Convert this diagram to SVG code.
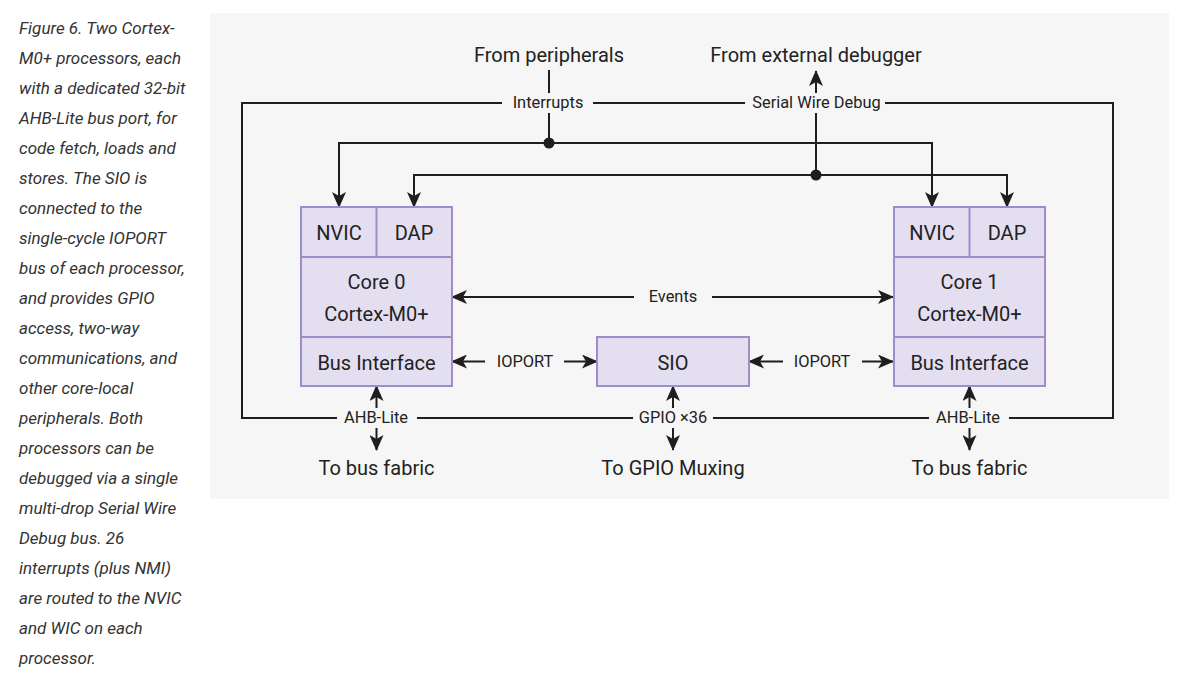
<svg xmlns="http://www.w3.org/2000/svg" width="1183" height="673" viewBox="0 0 1183 673">
<defs>
<style>
.cap{font-family:Roboto,"Liberation Sans",sans-serif;font-style:italic;font-size:17px;fill:#333}
.big{font-family:Roboto,"Liberation Sans",sans-serif;font-size:20px;fill:#222;text-anchor:middle}
.lbl{font-family:Roboto,"Liberation Sans",sans-serif;font-size:16.4px;fill:#222;text-anchor:middle}
.box{fill:#e4def1;stroke:#a08cc8;stroke-width:2}
.ln{fill:none;stroke:#1e1e1e;stroke-width:2}
.gap{fill:#f6f6f6}
</style>
<marker id="ah" viewBox="0 0 16 14" markerWidth="16" markerHeight="14" refX="15" refY="7" orient="auto-start-reverse" markerUnits="userSpaceOnUse">
<path d="M0,0 L16,7 L0,14 L4,7 Z" fill="#1e1e1e"/>
</marker>
</defs>
<g id="caption">
<text class="cap" x="19" y="34">Figure 6. Two Cortex-</text>
<text class="cap" x="19" y="64">M0+ processors, each</text>
<text class="cap" x="19" y="94">with a dedicated 32-bit</text>
<text class="cap" x="19" y="124">AHB-Lite bus port, for</text>
<text class="cap" x="19" y="154">code fetch, loads and</text>
<text class="cap" x="19" y="184">stores. The SIO is</text>
<text class="cap" x="19" y="214">connected to the</text>
<text class="cap" x="19" y="244">single-cycle IOPORT</text>
<text class="cap" x="19" y="274">bus of each processor,</text>
<text class="cap" x="19" y="304">and provides GPIO</text>
<text class="cap" x="19" y="334">access, two-way</text>
<text class="cap" x="19" y="364">communications, and</text>
<text class="cap" x="19" y="394">other core-local</text>
<text class="cap" x="19" y="424">peripherals. Both</text>
<text class="cap" x="19" y="454">processors can be</text>
<text class="cap" x="19" y="484">debugged via a single</text>
<text class="cap" x="19" y="514">multi-drop Serial Wire</text>
<text class="cap" x="19" y="544">Debug bus. 26</text>
<text class="cap" x="19" y="574">interrupts (plus NMI)</text>
<text class="cap" x="19" y="604">are routed to the NVIC</text>
<text class="cap" x="19" y="634">and WIC on each</text>
<text class="cap" x="19" y="664">processor.</text>
</g>
<rect x="210" y="13" width="959" height="486" fill="#f6f6f6"/>
<g id="connectors">
<rect class="ln" x="242" y="103" width="871" height="315"/>
<path class="ln" d="M549,70 V143"/>
<path class="ln" d="M339,207 V143 H932 V207" marker-start="url(#ah)" marker-end="url(#ah)"/>
<circle cx="549" cy="143" r="5.5" fill="#1e1e1e"/>
<path class="ln" d="M414,207 V175 H1007 V207" marker-start="url(#ah)" marker-end="url(#ah)"/>
<circle cx="816" cy="175" r="5.5" fill="#1e1e1e"/>
<path class="ln" d="M816,175 V71" marker-end="url(#ah)"/>
<path class="ln" d="M452,297 H893" marker-start="url(#ah)" marker-end="url(#ah)"/>
<path class="ln" d="M452,361.5 H597" marker-start="url(#ah)" marker-end="url(#ah)"/>
<path class="ln" d="M749,361.5 H893" marker-start="url(#ah)" marker-end="url(#ah)"/>
<path class="ln" d="M376.5,386 V450" marker-start="url(#ah)" marker-end="url(#ah)"/>
<path class="ln" d="M673,386 V450" marker-start="url(#ah)" marker-end="url(#ah)"/>
<path class="ln" d="M969.5,386 V450" marker-start="url(#ah)" marker-end="url(#ah)"/>
<rect class="gap" x="502" y="93" width="91" height="20"/>
<text class="lbl" x="548" y="108">Interrupts</text>
<rect class="gap" x="745" y="93" width="140" height="20"/>
<text class="lbl" x="816.5" y="108">Serial Wire Debug</text>
<rect class="gap" x="634" y="287" width="78" height="20"/>
<text class="lbl" x="673" y="302">Events</text>
<rect class="gap" x="485" y="351" width="79" height="20"/>
<text class="lbl" x="525" y="367">IOPORT</text>
<rect class="gap" x="783" y="351" width="79" height="20"/>
<text class="lbl" x="822" y="367">IOPORT</text>
<rect class="gap" x="337" y="408" width="80" height="20"/>
<text class="lbl" x="376" y="423">AHB-Lite</text>
<rect class="gap" x="633" y="408" width="80" height="20"/>
<text class="lbl" x="673" y="423">GPIO ×36</text>
<rect class="gap" x="929" y="408" width="80" height="20"/>
<text class="lbl" x="968" y="423">AHB-Lite</text>
</g>
<g id="from-peripherals"><text class="big" x="549" y="62">From peripherals</text></g>
<g id="from-debugger"><text class="big" x="816" y="62">From external debugger</text></g>
<g id="core0">
<rect class="box" x="301" y="207" width="151" height="179"/>
<path class="box" d="M376.5,207 V257 M301,257 H452 M301,337 H452"/>
<text class="big" x="339" y="240">NVIC</text>
<text class="big" x="414" y="240">DAP</text>
<text class="big" x="376.5" y="289">Core 0</text>
<text class="big" x="376.5" y="321">Cortex-M0+</text>
<text class="big" x="376.5" y="370">Bus Interface</text>
</g>
<g id="core1">
<rect class="box" x="894" y="207" width="151" height="179"/>
<path class="box" d="M969.5,207 V257 M894,257 H1045 M894,337 H1045"/>
<text class="big" x="932" y="240">NVIC</text>
<text class="big" x="1007" y="240">DAP</text>
<text class="big" x="969.5" y="289">Core 1</text>
<text class="big" x="969.5" y="321">Cortex-M0+</text>
<text class="big" x="969.5" y="370">Bus Interface</text>
</g>
<g id="sio">
<rect class="box" x="597" y="337" width="152" height="49"/>
<text class="big" x="673" y="370">SIO</text>
</g>
<g id="to-bus-fabric-0"><text class="big" x="376.5" y="475">To bus fabric</text></g>
<g id="to-gpio"><text class="big" x="673" y="475">To GPIO Muxing</text></g>
<g id="to-bus-fabric-1"><text class="big" x="969.5" y="475">To bus fabric</text></g>
</svg>
